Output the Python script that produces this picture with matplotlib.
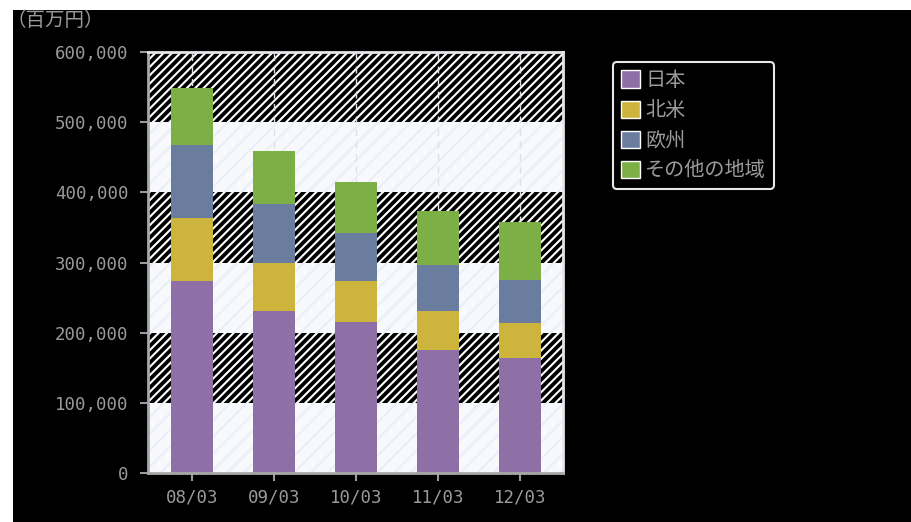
import matplotlib
matplotlib.use("Agg")
import matplotlib.pyplot as plt
from matplotlib.patches import Rectangle
import numpy as np

plt.rcParams['font.family'] = ['Noto Sans CJK JP', 'DejaVu Sans']
plt.rcParams['hatch.linewidth'] = 1.5

# データ (百万円)
periods = ['08/03', '09/03', '10/03', '11/03', '12/03']
regions = ['日本', '北米', '欧州', 'その他の地域']
japan = [274000, 231000, 215000, 176000, 164000]
north_america = [89000, 68000, 58000, 55000, 50000]
europe = [104000, 85000, 69000, 65000, 61000]
others = [82000, 75000, 73000, 78000, 83000]
yticks = [0, 100000, 200000, 300000, 400000, 500000, 600000]

colors = ['#8e6fa6', '#cdb43c', '#6a7d9e', '#7daf47']
grey = '#9a9a9a'

fig = plt.figure(figsize=(9.12, 5.22), dpi=100)
fig.patch.set_facecolor('white')
# 黒い背景 (左と上に白い余白)
fig.patches.append(Rectangle((13 / 912, 0), 1, 1 - 10 / 522, transform=fig.transFigure,
                             facecolor='black', edgecolor='none', zorder=-10))

ax = fig.add_axes([148 / 912, 1 - 473 / 522, 415 / 912, 421 / 522])
ax.set_facecolor('#f7f9fd')

# 縞模様の背景
for i in range(len(yticks) - 1):
	lo, hi = yticks[i], yticks[i + 1]
	if i % 2 == 1:
		ax.axhspan(lo, hi, facecolor='black', edgecolor='white', hatch='////', lw=0, zorder=0)
	else:
		ax.axhspan(lo, hi, facecolor='#f7f9fd', edgecolor='#eaeff7', hatch='//', lw=0, zorder=0)

x = np.arange(len(periods))
for xi in x:
	ax.axvline(xi, color='#dde1ea', lw=1, ls=(0, (5, 4)), zorder=1)

series = [japan, north_america, europe, others]
bottom = np.zeros(len(periods))
for vals, name, c in zip(series, regions, colors):
	ax.bar(x, vals, 0.51, bottom=bottom, color=c, label=name, zorder=2, lw=0)
	bottom += np.array(vals)

ax.set_xlim(-0.54, 4.52)
ax.set_ylim(0, 600000)
ax.set_yticks(yticks)
ax.set_yticklabels(['{:,}'.format(v) for v in yticks])
ax.set_xticks(x)
ax.set_xticklabels(periods)
for lab in ax.get_xticklabels() + ax.get_yticklabels():
	lab.set_family('DejaVu Sans Mono')
	lab.set_fontsize(12.5)
	lab.set_color(grey)
ax.tick_params(axis='both', colors=grey, length=6, width=1.5)
ax.tick_params(axis='y', pad=8)
ax.tick_params(axis='x', pad=5)

ax.spines['left'].set_color('#a8a8a8')
ax.spines['bottom'].set_color('#a8a8a8')
ax.spines['left'].set_linewidth(2)
ax.spines['bottom'].set_linewidth(2)
ax.spines['top'].set_color('#e4e6ea')
ax.spines['right'].set_color('#e4e6ea')
ax.spines['top'].set_linewidth(2)
ax.spines['right'].set_linewidth(2)

fig.text(6 / 912, 1 - 20 / 522, '（百万円）', color=grey, fontsize=14, va='center', ha='left')

leg = fig.legend(loc='upper left', bbox_to_anchor=(613 / 912, 1 - 62 / 522), fontsize=14.5,
				 handlelength=0.95, handleheight=0.95, handletextpad=0.25, labelspacing=0.45,
				 borderpad=0.4, borderaxespad=0, fancybox=True, facecolor='black',
				 edgecolor='#e8e8e8', framealpha=1)
for t in leg.get_texts():
	t.set_color(grey)
for h in leg.legend_handles:
	h.set_edgecolor('white')
	h.set_linewidth(1)
leg.get_frame().set_linewidth(1.5)

fig.savefig('out.png', dpi=100, facecolor=fig.get_facecolor())
